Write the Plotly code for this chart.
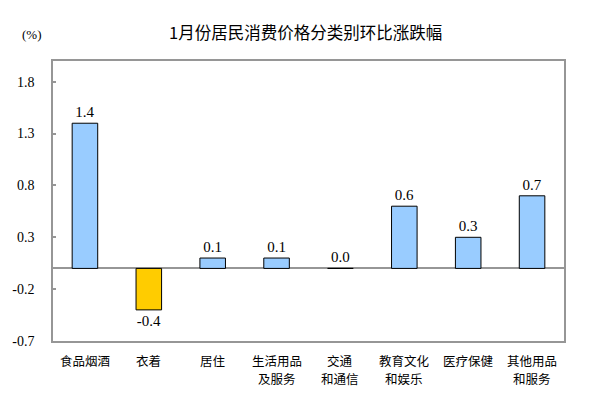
import plotly.graph_objects as go

categories = ["食品烟酒", "衣着", "居住", "生活用品<br>及服务", "交通<br>和通信", "教育文化<br>和娱乐", "医疗保健", "其他用品<br>和服务"]
values = [1.4, -0.4, 0.1, 0.1, 0.0, 0.6, 0.3, 0.7]
y_ticks = [-0.7, -0.2, 0.3, 0.8, 1.3, 1.8]
title_text = "1月份居民消费价格分类别环比涨跌幅"
unit_text = "(%)"

colors = ["#FFCC00" if v < 0 else "#99CCFF" for v in values]

W, H = 600, 412
ML, MR, MT, MB = 48, 36, 61, 71
pw = W - ML - MR
ph = H - MT - MB


def px_to_paper_y(py):
    return 1 - (py - MT) / ph


def px_to_paper_x(px):
    return (px - ML) / pw


fig = go.Figure(go.Bar(
    x=categories, y=values,
    marker=dict(color=colors, line=dict(color="black", width=1)),
    width=0.4,
    text=[f"{v:.1f}" for v in values],
    textposition="outside",
    textfont=dict(family="Liberation Serif, Times New Roman, serif", size=15, color="black"),
    cliponaxis=False,
))

annotations = [
    dict(text=title_text, x=px_to_paper_x(302.5), y=px_to_paper_y(32),
         xref="paper", yref="paper", showarrow=False, xanchor="center", yanchor="middle",
         font=dict(family="Noto Sans CJK SC, sans-serif", size=16.5, color="black")),
    dict(text=unit_text, x=px_to_paper_x(26.5), y=px_to_paper_y(35),
         xref="paper", yref="paper", showarrow=False, xanchor="center", yanchor="middle",
         font=dict(family="Liberation Serif, Times New Roman, serif", size=13, color="black")),
]
# category labels (one text per line, anchored to the category axis)
line_y = [360.5, 378.5]
for cat in categories:
    for i, line in enumerate(cat.split("<br>")):
        annotations.append(dict(
            text=line, x=cat, xref="x", y=px_to_paper_y(line_y[i]), yref="paper",
            showarrow=False, xanchor="center", yanchor="middle",
            font=dict(family="Noto Sans CJK SC, sans-serif", size=12.5, color="black"),
        ))

fig.update_layout(
    width=W, height=H,
    margin=dict(l=ML, r=MR, t=MT, b=MB),
    paper_bgcolor="white", plot_bgcolor="white",
    showlegend=False,
    annotations=annotations,
)

fig.update_xaxes(
    showline=True, linecolor="#969696", linewidth=1.5, mirror=True,
    showgrid=False, ticks="", showticklabels=False,
)
fig.update_yaxes(
    range=[-0.7, 2.0], tickvals=y_ticks, ticktext=[f"{t:.1f}" for t in y_ticks],
    showline=True, linecolor="#969696", linewidth=1.5, mirror=True,
    showgrid=False, zeroline=True, zerolinecolor="#969696", zerolinewidth=1.5,
    ticks="inside", ticklen=3, tickcolor="#969696", tickwidth=1.5,
    tickfont=dict(family="Liberation Serif, Times New Roman, serif", size=14, color="black"),
    ticklabelstandoff=14,
)

fig.write_html("out.html", config={"displayModeBar": False},
               post_script="document.body.style.margin='0';")
